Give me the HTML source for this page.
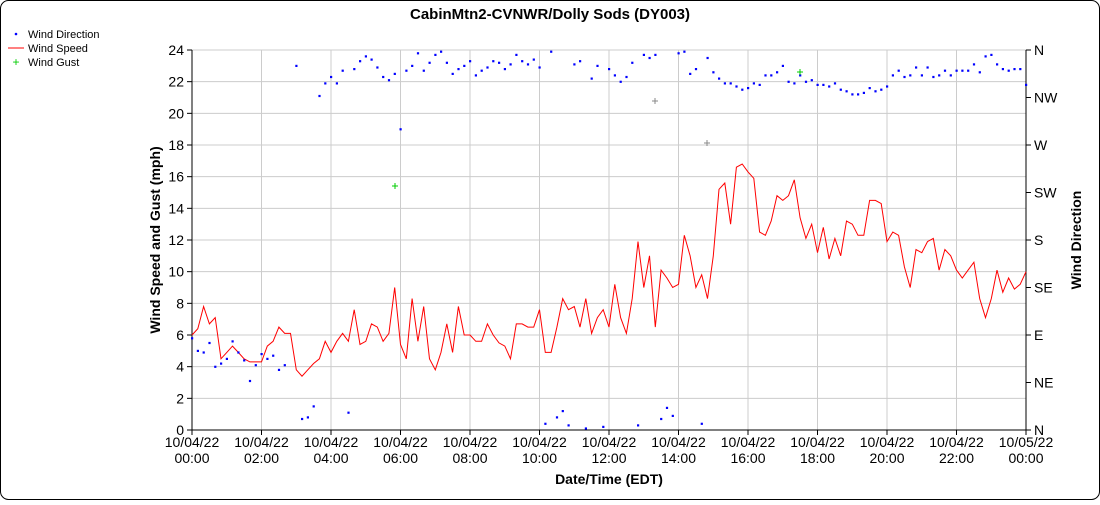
<!DOCTYPE html>
<html><head><meta charset="utf-8"><style>
body{margin:0;background:#fff;}
svg{font-family:"Liberation Sans",Arial,sans-serif;}
</style></head><body>
<svg id="s" width="1100" height="500" xmlns="http://www.w3.org/2000/svg">
<rect x="0.5" y="0.5" width="1099" height="499" rx="8" fill="#fff" stroke="#000"/>
<text x="550" y="19" text-anchor="middle" font-size="15" font-weight="bold">CabinMtn2-CVNWR/Dolly Sods (DY003)</text>
<g font-size="11">
<circle cx="16" cy="34" r="1.3" fill="#00f"/><text x="28" y="38">Wind Direction</text>
<line x1="8" y1="48" x2="24" y2="48" stroke="#f00"/><text x="28" y="52">Wind Speed</text>
<text x="16" y="66" text-anchor="middle" fill="#0c0" font-size="12">+</text><text x="28" y="66">Wind Gust</text>
</g>
<g id="g"></g>
<text transform="translate(160,240) rotate(-90)" text-anchor="middle" font-size="14" font-weight="bold">Wind Speed and Gust (mph)</text>
<text transform="translate(1081,240) rotate(-90)" text-anchor="middle" font-size="14" font-weight="bold">Wind Direction</text>
<text x="609" y="484" text-anchor="middle" font-size="14" font-weight="bold">Date/Time (EDT)</text>
</svg>
<script>
var g=document.getElementById('g'),h='';
var X0=192,X1=1026,Y0=50,Y1=430;
function y(v){return Y1-v*(Y1-Y0)/24;}
for(var v=0;v<=24;v+=2){var yy=y(v);
h+='<line x1="'+X0+'" x2="'+X1+'" y1="'+yy+'" y2="'+yy+'" stroke="#ccc"/>';
h+='<line x1="'+(X0-5)+'" x2="'+X0+'" y1="'+yy+'" y2="'+yy+'" stroke="#000"/>';
h+='<text x="'+(X0-8)+'" y="'+(yy+5)+'" text-anchor="end" font-size="14">'+v+'</text>';}
var dirs=['N','NE','E','SE','S','SW','W','NW','N'];
for(var i=0;i<9;i++){var yy=Y1-i*(Y1-Y0)/8;
h+='<line x1="'+X1+'" x2="'+(X1+5)+'" y1="'+yy+'" y2="'+yy+'" stroke="#000"/>';
h+='<text x="'+(X1+8)+'" y="'+(yy+5)+'" font-size="14">'+dirs[i]+'</text>';}
for(var i=0;i<=12;i++){var xx=X0+i*(X1-X0)/12;
h+='<line x1="'+xx+'" x2="'+xx+'" y1="'+Y0+'" y2="'+Y1+'" stroke="#ccc"/>';
h+='<line x1="'+xx+'" x2="'+xx+'" y1="'+Y1+'" y2="'+(Y1+5)+'" stroke="#000"/>';
var d=i==12?'10/05/22':'10/04/22',t=(i==12?0:i*2);t=(t<10?'0':'')+t+':00';
h+='<text x="'+xx+'" y="'+(Y1+17)+'" text-anchor="middle" font-size="14">'+d+'</text>';
h+='<text x="'+xx+'" y="'+(Y1+33)+'" text-anchor="middle" font-size="14">'+t+'</text>';}
h+='<line x1="'+X0+'" x2="'+X0+'" y1="'+Y0+'" y2="'+Y1+'" stroke="#000"/>';
h+='<line x1="'+X1+'" x2="'+X1+'" y1="'+Y0+'" y2="'+Y1+'" stroke="#000"/>';
h+='<line x1="'+X0+'" x2="'+X1+'" y1="'+Y1+'" y2="'+Y1+'" stroke="#000"/>';
var sp=[6.0,6.4,7.8,6.7,7.1,4.5,4.9,5.3,4.9,4.5,4.3,4.3,4.3,5.3,5.6,6.5,6.1,6.1,3.8,3.4,3.8,4.2,4.5,5.6,4.9,5.6,6.1,5.6,7.6,5.4,5.6,6.7,6.5,5.6,6.1,9.0,5.4,4.5,8.3,5.6,7.8,4.5,3.8,4.9,6.7,4.9,7.8,6.0,6.0,5.6,5.6,6.7,6.0,5.5,5.3,4.5,6.7,6.7,6.5,6.5,7.6,4.9,4.9,6.5,8.3,7.6,7.8,6.5,8.3,6.1,7.1,7.6,6.5,9.2,7.1,6.1,8.3,11.9,9.0,11.0,6.5,10.1,9.6,9.0,9.2,12.3,11.0,9.0,9.8,8.3,11.0,15.2,15.6,13.0,16.6,16.8,16.3,15.9,12.5,12.3,13.2,14.8,14.5,14.8,15.8,13.4,12.1,13.0,11.2,12.8,10.8,12.1,11.0,13.2,13.0,12.3,12.3,14.5,14.5,14.3,11.9,12.5,12.3,10.3,9.0,11.4,11.2,11.9,12.1,10.1,11.4,11.0,10.1,9.6,10.1,10.6,8.3,7.1,8.3,10.1,8.7,9.6,8.9,9.2,10.0];
var dx=(X1-X0)/144,p='';
sp.forEach(function(v,i){p+=(i?'L':'M')+(X0+i*dx).toFixed(1)+','+y(v).toFixed(1);});
h+='<path d="'+p+'" fill="none" stroke="#f00" stroke-width="1"/>';
var di=[5.8,5.0,4.9,5.5,4.0,4.2,4.5,5.6,4.9,4.4,3.1,4.1,4.8,4.5,4.7,3.8,4.1,null,23.0,0.7,0.8,1.5,21.1,21.9,22.3,21.9,22.7,1.1,22.8,23.3,23.6,23.4,22.9,22.3,22.1,22.5,19.0,22.7,23.0,23.8,22.7,23.2,23.7,23.9,23.2,22.5,22.8,23.0,23.3,22.4,22.7,22.9,23.3,23.2,22.8,23.1,23.7,23.3,23.1,23.4,22.9,0.4,23.9,0.8,1.2,0.3,23.1,23.3,0.1,22.2,23.0,0.2,22.8,22.4,22.0,22.3,23.2,0.3,23.7,23.5,23.7,0.7,1.4,0.9,23.8,23.9,22.5,22.8,0.4,23.5,22.6,22.2,21.9,21.9,21.7,21.5,21.6,21.9,21.8,22.4,22.4,22.6,23.0,22.0,21.9,22.4,22.0,22.1,21.8,21.8,21.7,21.9,21.5,21.4,21.2,21.2,21.3,21.6,21.4,21.5,21.7,22.4,22.7,22.3,22.4,22.9,22.4,22.9,22.3,22.4,22.7,22.4,22.7,22.7,22.7,23.1,22.6,23.6,23.7,23.1,22.8,22.7,22.8,22.8,21.8];
di.forEach(function(v,i){if(v===null)return;h+='<rect x="'+(X0+i*dx-1).toFixed(1)+'" y="'+(y(v)-1).toFixed(1)+'" width="2.2" height="2.2" fill="#00f"/>';});
function plus(x,yy,c){h+='<path d="M'+(x-3)+','+yy+'h6M'+x+','+(yy-3)+'v6" stroke="'+c+'"/>';}
plus(395,186,'#0c0');plus(800,72,'#0c0');plus(655,101,'#888');plus(707,143,'#888');
g.innerHTML=h;
</script>
</body></html>
